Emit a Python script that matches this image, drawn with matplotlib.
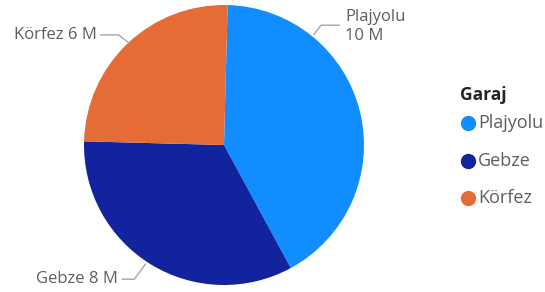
import numpy as np
import matplotlib.pyplot as plt
from matplotlib.lines import Line2D

plt.rcParams['font.family'] = ['Open Sans', 'DejaVu Sans']

garages = ['Plajyolu', 'Gebze', 'Körfez']
values = [10, 8, 6]  # million
colors = ['#118DFF', '#12239E', '#E66C37']
label_text = ['Plajyolu\n10 M', 'Gebze 8 M', 'Körfez 6 M']

W, H = 545, 292
fig = plt.figure(figsize=(W / 100, H / 100), dpi=100)
# pie centre ~ (224, 145) px, radius ~140 px
ax = fig.add_axes([84 / W, 7 / H, 280 / W, 280 / H])
ax.pie(values, colors=colors, startangle=88.5, counterclock=False, radius=1,
       wedgeprops=dict(linewidth=0))
ax.set_xlim(-1, 1)
ax.set_ylim(-1, 1)
ax.set_aspect('equal')
ax.axis('off')

# leader lines: angle of start point, radius, elbow offset, horizontal run, side, text gap
lc = '#A6A6A6'
tc = '#605E5C'
leaders = {
    'Plajyolu': (50.9, 1.02, (0.05, 0.064), 0.129, 1, 0.043),
    'Gebze': (236.6, 1.02, (-0.079, -0.107), 0.086, -1, 0.029),
    'Körfez': (133.0, 1.0, (-0.071, 0.055), 0.129, -1, 0.029),
}
for name, txt in zip(garages, label_text):
    ang, r, (ex, ey), run, side, gap = leaders[name]
    x0, y0 = r * np.cos(np.radians(ang)), r * np.sin(np.radians(ang))
    x1, y1 = x0 + ex, y0 + ey
    x2 = x1 + side * run
    ax.plot([x0, x1, x2], [y0, y1, y1], color=lc, lw=1, clip_on=False)
    if side > 0:
        ax.text(x2 + gap, y1 - 0.01, txt, ha='left', va='center', fontsize=12,
                color=tc, linespacing=1.3)
    else:
        ax.text(x2 - gap, y1, txt, ha='right', va='center', fontsize=12, color=tc)

# legend, placed by hand
fig.text(460 / W, 1 - 95 / H, 'Garaj', fontsize=12.5, fontweight='bold',
         color='#252423', va='center', ha='left')
for i, (name, c) in enumerate(zip(garages, colors)):
    y = 1 - (123 + i * 37.5) / H
    fig.add_artist(Line2D([468 / W], [y], marker='o', markersize=10, linestyle='',
                          markerfacecolor=c, markeredgecolor=c,
                          transform=fig.transFigure))
    fig.text(478 / W, y, name, fontsize=13, color=tc, va='center', ha='left')

fig.savefig('out.png', dpi=100)
